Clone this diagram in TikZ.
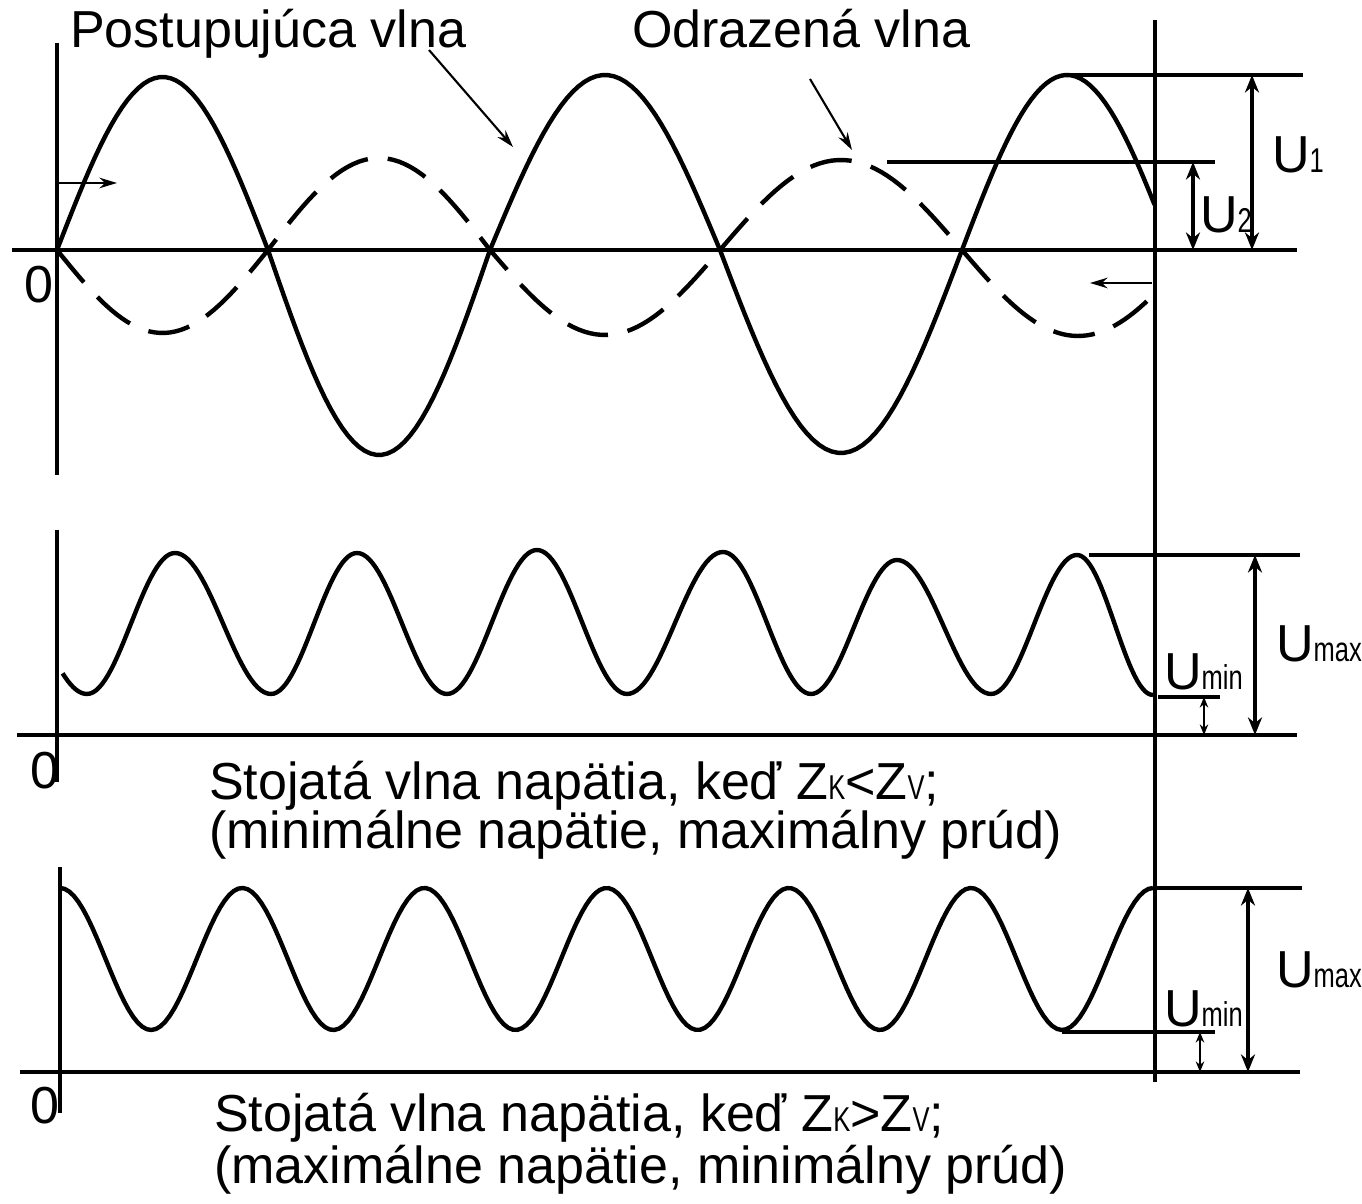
\documentclass[tikz,border=0pt]{standalone}
\usepackage{fontspec}
\setmainfont{Liberation Sans}
\newfontfamily\idxfont[FakeStretch=0.74]{Liberation Sans}
\usetikzlibrary{arrows.meta, calc}

\newcommand{\idx}[1]{{\idxfont\fontsize{9.8}{10}\selectfont #1}}

\begin{document}
\begin{tikzpicture}[x=0.01cm, y=-0.01cm, line width=1.15pt,
            lbl/.style={inner sep=0pt, anchor=base west, font=\fontsize{14.8}{17}\selectfont},
            wave/.style={line width=1.25pt, line join=round},
            refl/.style={wave, dash pattern=on 0.42cm off 0.2cm},
            dimarr/.style={line width=1.15pt, {Stealth[length=5pt,width=4pt]}-{Stealth[length=5pt,width=4pt]}},
            smallarr/.style={line width=0.5pt, {Stealth[length=3pt,width=2.4pt]}-{Stealth[length=3pt,width=2.4pt]}},
            callout/.style={line width=0.6pt, -{Stealth[length=5pt,width=3pt]}}]
            \useasboundingbox (0,0) rectangle (1362,1204);

            \draw (57,43) -- (57,475);
            \draw (12,250) -- (1297,250);
            \draw (57,530) -- (57,782);
            \draw (17,735) -- (1297,735);
            \draw (60,867) -- (60,1113);
            \draw (20,1072) -- (1300,1072);
            \draw (1155,20) -- (1155,1082);

            \draw[wave] (57,250) \foreach \xa/\xb/\amp in {57/268/173, 268/490/-205, 490/720/175, 720/962/-203} {
                -- plot[domain=0:180, samples=40, variable=\t] ({\xa+\t/180*(\xb-\xa)}, {250-(\amp)*sin(\t)})
            } -- plot[domain=0:165, samples=40, variable=\t] ({962+\t/180*210}, {250-175*sin(\t)});

            \draw[refl] (57,250) \foreach \xa/\xb/\amp in {57/268/-83, 268/490/92, 490/720/-85, 720/962/90} {
                -- plot[domain=0:180, samples=40, variable=\t] ({\xa+\t/180*(\xb-\xa)}, {250-(\amp)*sin(\t)})
            } -- plot[domain=0:145, samples=40, variable=\t] ({962+\t/180*232}, {250+86*sin(\t)});

            \draw[wave] plot[domain=135:180, samples=10, variable=\t] ({-10.5+\t/180*97.5}, {623.5-70.5*cos(\t)})
                \foreach \xa/\ya/\xb/\yb in {87/694/175/553, 175/553/271/694, 271/694/357/553, 357/553/447/694,
                    447/694/537/550, 537/550/627/694, 627/694/723/552, 723/552/811/694, 811/694/897/560,
                    897/560/991/694, 991/694/1077/555, 1077/555/1153/695} {
                -- plot[domain=0:180, samples=30, variable=\t] ({\xa+\t/180*(\xb-\xa)}, {(\ya+\yb)/2+(\ya-\yb)/2*cos(\t)})
            };

            \draw[wave] plot[domain=60:1153, samples=240] (\x, {959-71*cos((\x-60)/91.1*180)});

            \coordinate (u1top) at (1252,75);
            \coordinate (u1bot) at (1252,250);
            \coordinate (u2top) at (1193,162);
            \coordinate (u2bot) at (1193,250);
            \draw (1067,75) -- (1303,75);
            \draw (887,162) -- (1215,162);
            \draw[dimarr] (u1top) -- (u1bot);
            \draw[dimarr] (u2top) -- (u2bot);

            \coordinate (mxtop) at (1255,555);
            \coordinate (mxbot) at (1255,735);
            \coordinate (mntop) at (1204,697);
            \coordinate (mnbot) at (1204,735);
            \draw (1089,555) -- (1300,555);
            \draw (1158,697) -- (1220,697);
            \draw[dimarr] (mxtop) -- (mxbot);
            \draw[smallarr] (mntop) -- (mnbot);

            \coordinate (bxtop) at (1248,888);
            \coordinate (bxbot) at (1248,1072);
            \coordinate (bntop) at (1200,1032);
            \coordinate (bnbot) at (1200,1072);
            \draw (1155,888) -- (1302,888);
            \draw (1062,1032) -- (1215,1032);
            \draw[dimarr] (bxtop) -- (bxbot);
            \draw[smallarr] (bntop) -- (bnbot);

            \node[lbl] (postup) at (68,48) {Postupujúca vlna};
            \node[lbl] (odraz) at (630,48) {Odrazená vlna};
            \coordinate (pstart) at (429,50);
            \coordinate (ptip) at (513,147);
            \coordinate (ostart) at (810,79);
            \coordinate (otip) at (852,150);
            \draw[callout] (pstart) -- (ptip);
            \draw[callout] (ostart) -- (otip);

            \coordinate (fwfrom) at (57,183);
            \coordinate (fwto) at (117,183);
            \coordinate (bwfrom) at (1152,283);
            \coordinate (bwto) at (1090,283);
            \draw[callout] (fwfrom) -- (fwto);
            \draw[callout] (bwfrom) -- (bwto);

            \node[lbl] (zero1) at (22,303) {0};
            \node[lbl] (zero2) at (28,789) {0};
            \node[lbl] (zero3) at (28,1124) {0};

            \node[lbl] (u1) at (1270,173) {U\idx{1}};
            \node[lbl] (u2) at (1198,233) {U\idx{2}};
            \node[lbl] (umax1) at (1274,662) {U\idx{max}};
            \node[lbl] (umin1) at (1162,690) {U\idx{min}};
            \node[lbl] (umax2) at (1274,988) {U\idx{max}};
            \node[lbl] (umin2) at (1162,1027) {U\idx{min}};

            \node[lbl] (cap1a) at (207,800) {Stojatá vlna napätia, keď Z\idx{K}<Z\idx{V};};
            \node[lbl] (cap1b) at (207,849) {(minimálne napätie, maximálny prúd)};
            \node[lbl] (cap2a) at (212,1132) {Stojatá vlna napätia, keď Z\idx{K}>Z\idx{V};};
            \node[lbl] (cap2b) at (212,1184) {(maximálne napätie, minimálny prúd)};
        \end{tikzpicture}
\end{document}
